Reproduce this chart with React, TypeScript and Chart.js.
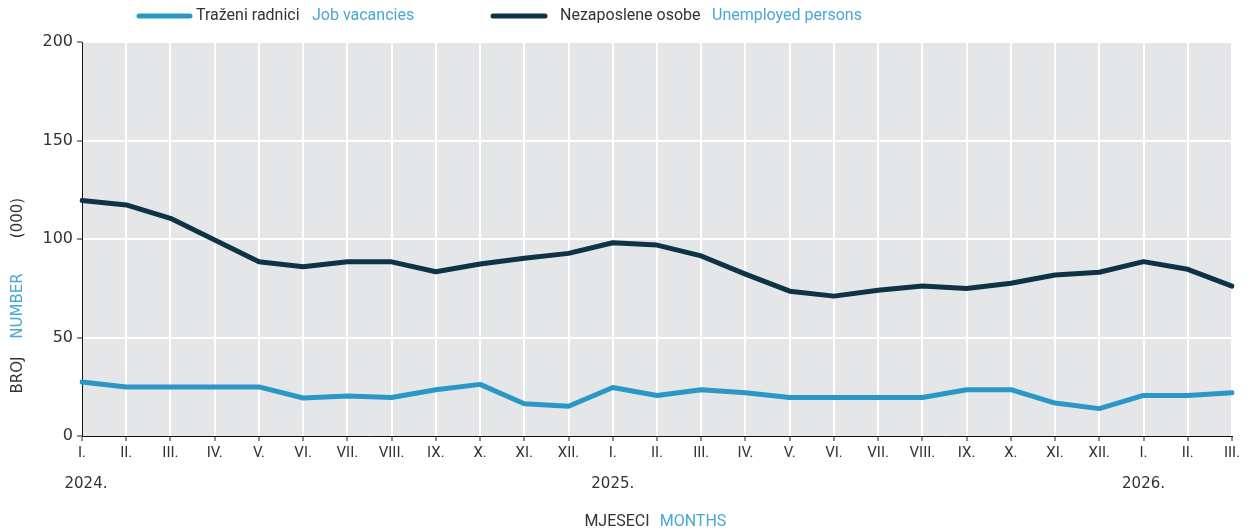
import React, { useEffect, useRef } from "react";
import { Chart, registerables } from "chart.js";

Chart.register(...registerables);

const months = [
  "I.", "II.", "III.", "IV.", "V.", "VI.", "VII.", "VIII.", "IX.", "X.", "XI.", "XII.",
  "I.", "II.", "III.", "IV.", "V.", "VI.", "VII.", "VIII.", "IX.", "X.", "XI.", "XII.",
  "I.", "II.", "III.",
];
const years = ["2024.", "2025.", "2026."];

const vacancies = [
  27.4, 24.9, 24.9, 24.9, 24.9, 19.3, 20.3, 19.5, 23.5, 26.2, 16.4, 15.1,
  24.6, 20.6, 23.5, 22, 19.5, 19.5, 19.5, 19.5, 23.5, 23.5, 16.7, 13.9,
  20.6, 20.6, 22,
];
const unemployed = [
  119.5, 117.3, 110.5, 99.5, 88.4, 85.9, 88.4, 88.4, 83.4, 87.3, 90.2, 92.7,
  98.1, 96.9, 91.4, 82.2, 73.5, 71, 74, 76.1, 74.9, 77.5, 81.7, 83.1,
  88.5, 84.6, 76.1,
];

const seriesNamesHr = ["Traženi radnici", "Nezaposlene osobe"];
const seriesNamesEn = ["Job vacancies", "Unemployed persons"];
const yTitle = ["BROJ", "NUMBER", "(000)"];
const xTitle = ["MJESECI", "MONTHS"];

const BLUE = "#2a97c5";
const BLUE_TEXT = "#48a8d3";
const NAVY = "#0d3345";
const TEXT = "#333333";
const BG = "#e5e6e8";

const decor = {
  id: "decor",
  beforeDraw(chart: any) {
    const { ctx, chartArea: a } = chart;
    ctx.save();
    ctx.fillStyle = BG;
    ctx.fillRect(a.left, a.top, a.right - a.left, a.bottom - a.top);
    ctx.restore();
  },
  afterDraw(chart: any) {
    const { ctx } = chart;
    const xs = chart.scales.x;
    ctx.save();
    // years
    ctx.font = "15px 'DejaVu Sans'";
    ctx.fillStyle = TEXT;
    ctx.textAlign = "center";
    ctx.textBaseline = "middle";
    years.forEach((y, i) => {
      const px = xs.getPixelForValue(i * 12);
      ctx.fillText(y, i === 0 ? px + 4 : px, 484);
    });

    // legend
    const items = [
      { color: BLUE, x0: 137, x1: 192, tx: 196, ex: 312 },
      { color: NAVY, x0: 491, x1: 547, tx: 560, ex: 712 },
    ];
    ctx.lineCap = "round";
    ctx.lineWidth = 5;
    ctx.textAlign = "left";
    ctx.font = "16px Roboto";
    items.forEach((it, i) => {
      ctx.strokeStyle = it.color;
      ctx.beginPath();
      ctx.moveTo(it.x0 + 2, 16);
      ctx.lineTo(it.x1 - 2, 16);
      ctx.stroke();
      ctx.fillStyle = TEXT;
      ctx.fillText(seriesNamesHr[i], it.tx, 16);
      ctx.fillStyle = BLUE_TEXT;
      ctx.fillText(seriesNamesEn[i], it.ex, 16);
    });

    // x title
    ctx.font = "16px Roboto";
    ctx.textAlign = "center";
    ctx.fillStyle = TEXT;
    ctx.fillText(xTitle[0], 617, 522);
    ctx.fillStyle = BLUE_TEXT;
    ctx.fillText(xTitle[1], 693, 522);

    // y title
    ctx.translate(18, 0);
    ctx.rotate(-Math.PI / 2);
    ctx.font = "15px 'DejaVu Sans'";
    ctx.fillStyle = TEXT;
    ctx.fillText(yTitle[0], -375, 0);
    ctx.fillStyle = BLUE_TEXT;
    ctx.fillText(yTitle[1], -306, 0);
    ctx.fillStyle = TEXT;
    ctx.fillText(yTitle[2], -218, 0);
    ctx.restore();
  },
};

export default function App() {
  const ref = useRef<HTMLCanvasElement | null>(null);
  useEffect(() => {
    if (!ref.current) return;
    const chart = new Chart(ref.current, {
      type: "line",
      data: {
        labels: months,
        datasets: [
          {
            label: seriesNamesHr[1],
            data: unemployed,
            borderColor: NAVY,
            borderWidth: 5,
            pointRadius: 0,
            tension: 0,
            borderCapStyle: "round",
            borderJoinStyle: "round",
          },
          {
            label: seriesNamesHr[0],
            data: vacancies,
            borderColor: BLUE,
            borderWidth: 5,
            pointRadius: 0,
            tension: 0,
            borderCapStyle: "round",
            borderJoinStyle: "round",
          },
        ],
      },
      options: {
        animation: false,
        responsive: true,
        maintainAspectRatio: false,
        layout: { padding: { top: 42, right: 18, left: 0, bottom: 0 } },
        plugins: {
          legend: { display: false },
          tooltip: { enabled: false },
          title: { display: false },
        },
        scales: {
          x: {
            type: "category",
            offset: false,
            grid: {
              color: (c: any) => (c.index === 0 ? "rgba(0,0,0,0)" : "#ffffff"),
              lineWidth: 2,
              tickColor: "#222",
              tickWidth: 1,
              tickLength: 5,
              drawTicks: true,
            },
            border: { color: "#111", width: 1 },
            ticks: {
              font: { family: "Roboto", size: 15 },
              color: TEXT,
              padding: 3,
              maxRotation: 0,
              autoSkip: false,
            },
            afterFit: (s: any) => {
              s.height = 94;
            },
          },
          y: {
            min: 0,
            max: 200,
            grid: {
              color: (c: any) => (c.index === 0 ? "rgba(0,0,0,0)" : "#ffffff"),
              lineWidth: 2,
              tickColor: "#222",
              tickWidth: 1,
              tickLength: 5,
            },
            border: { color: "#111", width: 1 },
            ticks: {
              stepSize: 50,
              font: { family: "DejaVu Sans", size: 16 },
              color: TEXT,
              padding: 4,
            },
            afterFit: (s: any) => {
              s.width = 82;
            },
          },
        },
      },
      plugins: [decor],
    } as any);
    return () => chart.destroy();
  }, []);
  return (
    <div style={{ position: "fixed", left: 0, top: 0, width: 1250, height: 530, background: "#fff" }}>
      <canvas ref={ref} />
    </div>
  );
}
